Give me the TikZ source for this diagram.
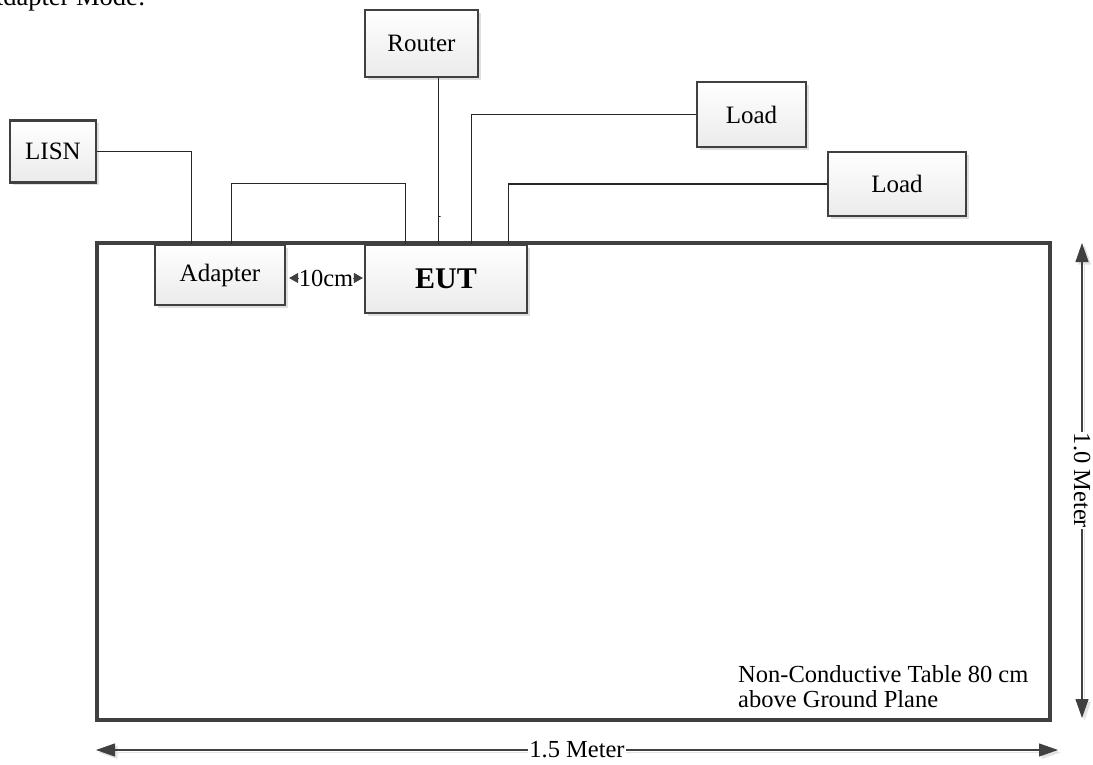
\documentclass[tikz,border=0pt]{standalone}
\usepackage{fontspec}
\setmainfont{Liberation Serif}
\usetikzlibrary{shadows,arrows.meta,calc}
\definecolor{edge}{HTML}{404040}
\begin{document}
\begin{tikzpicture}[x=1pt,y=-1pt,
  box/.style={draw=edge, line width=2.2pt, top color=white, bottom color=gray!16,
    drop shadow={shadow xshift=3pt, shadow yshift=-3pt, fill=gray!25, opacity=1},
    inner sep=0pt, font=\fontsize{25}{28}\selectfont},
  tablebox/.style={draw=edge, line width=3.5pt, fill=white,
    drop shadow={shadow xshift=2pt, shadow yshift=-2pt, fill=gray!25, opacity=1},
    inner sep=0pt},
  wire/.style={draw=black!85, line width=1.1pt},
  dimline/.style={draw=edge, line width=1.1pt,
    {Triangle[length=19pt,width=13pt]}-{Triangle[length=19pt,width=13pt]}},
  dimshadow/.style={dimline, draw=gray!22, fill=gray!22,
    transform canvas={shift={(2.5pt,-2.5pt)}}},
  lbl/.style={font=\fontsize{24.5}{25}\selectfont}]
\useasboundingbox (0,0) rectangle (1093,765);
% clipped heading
\node[font=\fontsize{26.5}{28}\selectfont, anchor=base west, inner sep=0pt] (head) at (-16,6) {Adapter Mode:};
% table
\node[tablebox, minimum width=953pt, minimum height=477pt] (table) at (573.5,481.5) {};
% boxes
\node[box, minimum width=86pt, minimum height=62pt] (lisn) at (53,151.5) {LISN};
\node[box, minimum width=130pt, minimum height=60pt] (adapter) at (220,275) {Adapter};
\node[box, minimum width=113pt, minimum height=67pt] (router) at (421.5,43.5) {Router};
\node[box, minimum width=109pt, minimum height=65pt] (load1) at (751.5,114.5) {Load};
\node[box, minimum width=138pt, minimum height=64pt] (load2) at (897,184) {Load};
\node[box, minimum width=162pt, minimum height=68pt, font=\fontsize{30}{32}\selectfont\bfseries] (eut) at (446,279) {EUT};
% connectors
\draw[wire] (lisn.east) -| ($(adapter.north west)+(38,0)$);
\draw[wire] ($(adapter.north west)+(78,0)$) -- ++(0,-60) -| ($(eut.north west)+(42,0)$);
\draw[wire] ($(router.south)+(17,0)$) -- ++(0,138) -- ++(2,0) -| ($(eut.north west)+(75,0)$);
\draw[wire] (load1.west) -| ($(eut.north west)+(108,0)$);
\draw[wire] (load2.west) -| ($(eut.north west)+(145,0)$);
% 10 cm spacing
\draw[draw=edge, fill=edge, line width=1pt, {Triangle[length=9pt,width=10pt]}-{Triangle[length=9pt,width=10pt]}]
  ($(adapter.east)+(3,3)$) -- ($(eut.west)+(-1,-1)$)
  node[midway, fill=white, inner sep=0pt, lbl] (gap) {10cm};
% note
\node[lbl, align=left, anchor=north west, inner sep=0pt] (note) at (738,665)
  {Non-Conductive Table 80 cm\\above Ground Plane};
% dimensions
\coordinate (hl) at (96,750);
\coordinate (hr) at (1058,750);
\coordinate (vt) at (1082,243);
\coordinate (vb) at (1082,718);
\draw[dimshadow] (hl) -- (hr);
\draw[dimshadow] (vt) -- (vb);
\draw[dimline] (hl) -- (hr) node[midway, fill=white, inner sep=1pt, lbl] (wlab) {1.5 Meter};
\draw[dimline] (vt) -- (vb) node[midway, fill=white, inner sep=1pt, lbl, rotate=-90] (hlab) {1.0 Meter};
\end{tikzpicture}
\end{document}
